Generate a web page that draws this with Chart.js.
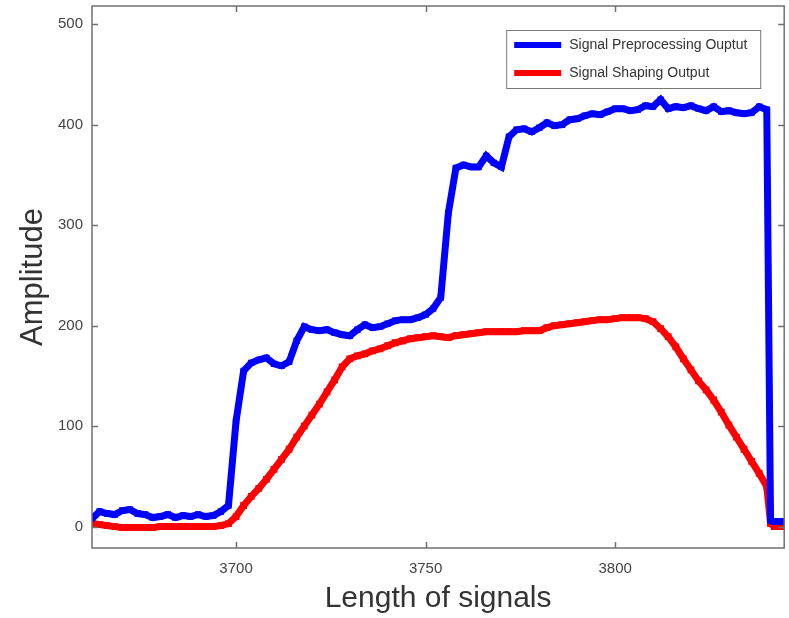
<!DOCTYPE html>
<html>
<head>
<meta charset="utf-8">
<script src="https://cdn.jsdelivr.net/npm/chart.js@4"></script>
<style>
  html,body{margin:0;padding:0;background:#fff;}
  #wrap{width:789px;height:618px;}
</style>
</head>
<body>
<div id="wrap"><canvas id="c" width="789" height="618"></canvas></div>
<script>
const xValues = [3662,3664,3666,3668,3670,3672,3674,3676,3678,3680,3682,3684,3686,3688,3690,3692,3694,3696,3698,3700,
3702,3704,3706,3708,3710,3712,3714,3716,3718,3720,3722,3724,3726,3728,3730,3732,3734,3736,3738,3740,
3742,3744,3746,3748,3750,3752,3754,3756,3758,3760,3762,3764,3766,3768,3770,3772,3774,3776,3778,3780,
3782,3784,3786,3788,3790,3792,3794,3796,3798,3800,3802,3804,3806,3808,3810,3812,3814,3816,3818,3820,
3822,3824,3826,3828,3830,3832,3834,3836,3838,3840,3841,3842,3844,3845];

const preprocessing = [8,15,13,12,16,17,13,12,9,10,12,9,11,10,12,10,11,15,21,105,
155,163,166,168,162,160,164,185,199,196,195,196,193,191,190,196,201,198,199,202,
205,206,206,208,211,217,228,312,357,360,358,358,369,362,358,388,395,396,393,397,
402,399,400,405,406,409,411,410,413,416,416,414,415,419,418,425,416,418,417,419,
416,414,418,413,414,412,411,412,418,415,6,5,5,5];

const shaping = [3,2,1,0,-1,-1,-1,-1,-1,0,0,0,0,0,0,0,0,1,3,10,
21,30,38,47,57,67,77,89,100,111,122,134,146,159,167,170,172,175,177,180,
183,185,187,188,189,190,189,188,190,191,192,193,194,194,194,194,194,195,195,195,
198,200,201,202,203,204,205,206,206,207,208,208,208,207,204,197,189,179,167,156,
145,136,126,114,101,89,77,65,53,40,3,0,0,0];

const xTicks = [3700, 3750, 3800];
const yTicks = [0, 100, 200, 300, 400, 500];
const seriesNames = ['Signal Preprocessing Ouptut', 'Signal Shaping Output'];
const seriesColors = ['#0000ff', '#ff0000'];

const FONT = "'Liberation Sans', Arial, Helvetica, sans-serif";
const AXIS_COLOR = '#707070';

const framePlugin = {
  id: 'frame',
  afterDraw(chart) {
    const ctx = chart.ctx;
    const a = chart.chartArea;
    const xs = chart.scales.x, ys = chart.scales.y;
    ctx.save();
    ctx.strokeStyle = AXIS_COLOR;
    ctx.lineWidth = 1.5;
    ctx.strokeRect(a.left, a.top, a.right - a.left, a.bottom - a.top);
    const tl = 6;
    ctx.beginPath();
    xTicks.forEach(v => {
      const px = Math.round(xs.getPixelForValue(v)) + 0.5;
      ctx.moveTo(px, a.bottom); ctx.lineTo(px, a.bottom - tl);
      ctx.moveTo(px, a.top); ctx.lineTo(px, a.top + tl);
    });
    yTicks.forEach(v => {
      const py = Math.round(ys.getPixelForValue(v)) + 0.5;
      ctx.moveTo(a.left, py); ctx.lineTo(a.left + tl, py);
      ctx.moveTo(a.right, py); ctx.lineTo(a.right - tl, py);
    });
    ctx.stroke();

    // legend box
    const bx = a.right - 278, by = a.top + 24, bw = 254, bh = 58;
    ctx.fillStyle = '#ffffff';
    ctx.fillRect(bx, by, bw, bh);
    ctx.strokeStyle = '#777777';
    ctx.lineWidth = 1;
    ctx.strokeRect(bx + 0.5, by + 0.5, bw, bh);
    ctx.font = '14px ' + FONT;
    ctx.textBaseline = 'middle';
    ctx.textAlign = 'left';
    chart.data.datasets.forEach((ds, i) => {
      const ly = by + 15 + i * 28;
      ctx.strokeStyle = ds.borderColor;
      ctx.lineWidth = 6;
      ctx.beginPath();
      ctx.moveTo(bx + 8, ly); ctx.lineTo(bx + 55, ly);
      ctx.stroke();
      ctx.fillStyle = '#333333';
      ctx.fillText(ds.label, bx + 63, ly);
    });
    ctx.restore();
  }
};

const makeData = arr => xValues.map((x, i) => ({ x: x, y: arr[i] }));

function zeroPad(scale) {
  scale.paddingTop = 0; scale.paddingBottom = 0;
  scale.paddingLeft = 0; scale.paddingRight = 0;
}

new Chart(document.getElementById('c'), {
  type: 'line',
  data: {
    datasets: [
      {
        label: seriesNames[0],
        data: makeData(preprocessing),
        borderColor: seriesColors[0],
        backgroundColor: seriesColors[0],
        pointBackgroundColor: seriesColors[0],
        pointBorderColor: seriesColors[0],
        borderWidth: 7,
        pointStyle: 'rect',
        pointRadius: 4.5,
        pointBorderWidth: 0,
        tension: 0,
        fill: false
      },
      {
        label: seriesNames[1],
        data: makeData(shaping),
        borderColor: seriesColors[1],
        backgroundColor: seriesColors[1],
        pointBackgroundColor: seriesColors[1],
        pointBorderColor: seriesColors[1],
        borderWidth: 7,
        pointStyle: 'rect',
        pointRadius: 4.8,
        pointBorderWidth: 0,
        tension: 0,
        fill: false
      }
    ]
  },
  options: {
    responsive: false,
    animation: false,
    devicePixelRatio: 1,
    layout: { padding: { top: 6, right: -3, left: 0, bottom: 0 } },
    plugins: {
      legend: { display: false },
      tooltip: { enabled: false }
    },
    events: [],
    scales: {
      x: {
        type: 'linear',
        min: 3662,
        max: 3844.6,
        afterFit(scale) { scale.height = 70; zeroPad(scale); },
        afterBuildTicks(scale) { scale.ticks = xTicks.map(v => ({ value: v })); },
        grid: { display: false, drawTicks: false },
        border: { display: false },
        ticks: {
          padding: 12,
          color: '#444444',
          font: { family: FONT, size: 15 },
          maxRotation: 0,
          callback: v => String(v)
        },
        title: {
          display: true,
          text: 'Length of signals',
          color: '#333333',
          font: { family: FONT, size: 30 },
          padding: { top: 0, bottom: 1 }
        }
      },
      y: {
        type: 'linear',
        min: -21.3,
        max: 518.2,
        afterFit(scale) { scale.width = 92; zeroPad(scale); },
        afterBuildTicks(scale) { scale.ticks = yTicks.map(v => ({ value: v })); },
        grid: { display: false, drawTicks: false },
        border: { display: false },
        ticks: {
          padding: 9,
          color: '#444444',
          font: { family: FONT, size: 15 },
          callback: v => String(v)
        },
        title: {
          display: true,
          text: 'Amplitude',
          color: '#333333',
          font: { family: FONT, size: 31 },
          padding: { top: 15, bottom: 0 }
        }
      }
    }
  },
  plugins: [framePlugin]
});
</script>
</body>
</html>
